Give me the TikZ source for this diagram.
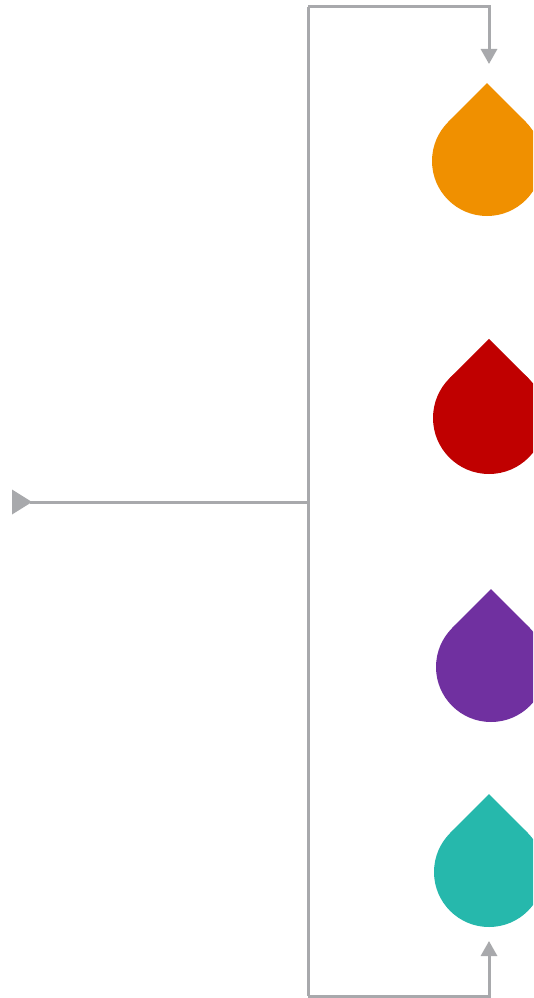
\documentclass[tikz,border=0pt]{standalone}
\usetikzlibrary{arrows.meta,calc}
\definecolor{linegray}{HTML}{A8A9AC}
\definecolor{dorange}{HTML}{F09000}
\definecolor{dred}{HTML}{C00000}
\definecolor{dpurple}{HTML}{7030A0}
\definecolor{dteal}{HTML}{26B8AC}
\tikzset{
  conn/.style={draw=linegray, line width=3pt},
  connarrow/.style={conn, -{Triangle[width=16pt,length=15pt]}},
  dropbody/.style={circle, minimum size=110pt, inner sep=0pt, outer sep=0pt, fill=#1},
}
\newcommand\droptop[2]{\fill[#2] (#1.135) -- ($(#1.center)!1.41421!(#1.north)$) -- (#1.45) -- (#1.center) -- cycle;}
\begin{document}
\begin{tikzpicture}[x=1pt,y=1pt]
\clip (0,0) rectangle (533,-998);
\fill[white] (0,0) rectangle (533,-998);
% drops
\node[dropbody=dorange] (d1) at (487,-161) {};
\droptop{d1}{dorange}
\node[dropbody=dred, minimum size=112pt] (d2) at (489,-418) {};
\droptop{d2}{dred}
\node[dropbody=dpurple] (d3) at (491,-667) {};
\droptop{d3}{dpurple}
\node[dropbody=dteal] (d4) at (489,-872) {};
\droptop{d4}{dteal}
% connector coordinates
\coordinate (src) at (30,-502);
\coordinate (hub) at (308,-502);
\coordinate (top) at (308,-7);
\coordinate (bot) at (308,-996);
\coordinate (a1) at (489,-64);
\coordinate (a4) at (489,-941);
% source triangle
\fill[linegray] (12,-489.5) -- (32,-502) -- (12,-514.5) -- cycle;
% connectors
\draw[conn] (src) -- (hub);
\draw[conn] (top) -- (bot);
\draw[connarrow] (top) -| (a1);
\draw[connarrow] (bot) -| (a4);
\end{tikzpicture}
\end{document}
